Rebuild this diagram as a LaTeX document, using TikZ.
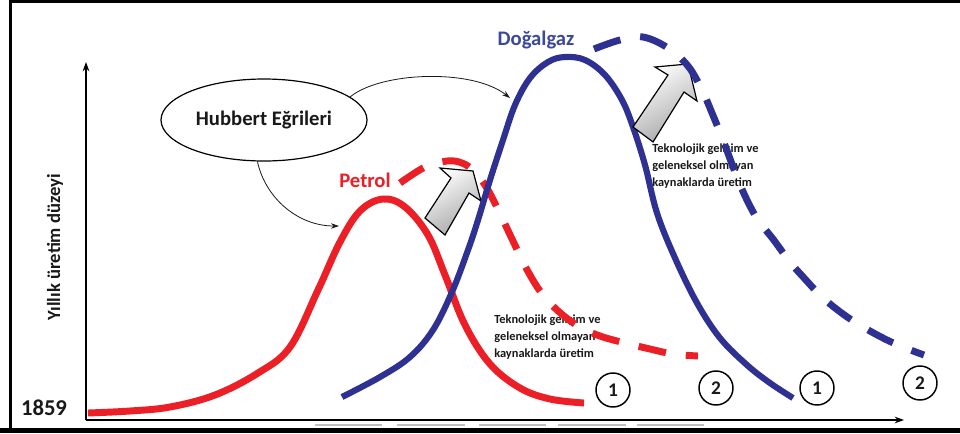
\documentclass[tikz,border=0pt]{standalone}
\usepackage{fontspec}
\setmainfont{Carlito}
\usetikzlibrary{arrows.meta,shapes.geometric}
\definecolor{petred}{RGB}{236,30,38}
\definecolor{gasblue}{RGB}{46,49,146}
\definecolor{gastext}{RGB}{60,72,154}
\definecolor{ink}{RGB}{25,25,25}
\tikzset{
  redcurve/.style={petred,line width=5.2pt,line cap=butt},
  bluecurve/.style={gasblue,line width=4.6pt,line cap=butt},
  dashpat/.style={dash pattern=on 21pt off 15pt},
  thinarrow/.style={ink,line width=0.6pt,-{Stealth[length=6pt,width=4pt]}},
  axisline/.style={black,line width=1.1pt,-{Stealth[length=7pt,width=5pt]}},
  numcircle/.style={circle,draw=black,line width=1.1pt,minimum size=25.5pt,inner sep=0pt,font=\fontsize{14.5}{14.5}\selectfont\bfseries,text=ink},
  label/.style={font=\fontsize{15.5}{16}\selectfont\bfseries},
  smalltext/.style={font=\fontsize{9.3}{12.4}\selectfont\bfseries,text=ink,align=left,anchor=north west,inner sep=0pt},
  blockarrow/.style={draw=black,line width=0.9pt,line join=miter,top color=white,bottom color=black!35,shading angle=30}
}
\begin{document}
\begin{tikzpicture}[x=0.75pt,y=-0.75pt]
\useasboundingbox (0,0) rectangle (960,433);
\fill[white] (0,0) rectangle (960,433);
% frame
\fill[black] (9,0) rectangle (11.5,433);
\fill[black] (9,0) rectangle (960,2.5);
\fill[black] (0,428) rectangle (960,433);
% faint gray segments under axis
\foreach \a/\b in {315/382,397/465,479/546,558/626,637/704}
  \draw[black!25,line width=1.2pt] (\a,425) -- (\b,425);

% axes
\coordinate (origin) at (86,420);
\coordinate (ytop) at (86,62);
\coordinate (xend) at (904,420);
\draw[axisline] (origin) -- (ytop);
\draw[axisline] (origin) -- (xend);

\node[font=\fontsize{17}{17}\selectfont\bfseries,text=ink] (year) at (44,408) {1859};
\node[rotate=90,font=\fontsize{14}{14}\selectfont\bfseries,text=ink] (ylab) at (55,247) {Yıllık üretim düzeyi};

% texts under the curves
\node[smalltext] (txt1) at (494,315) {Teknolojik gelişim ve\\geleneksel olmayan\\kaynaklarda üretim};
\node[smalltext] (txt2) at (652,144) {Teknolojik gelişim ve\\geleneksel olmayan\\kaynaklarda üretim};

% red curves
\draw[redcurve] plot[smooth,tension=0.6] coordinates {(88,413) (130,411) (170,407) (215,395) (258,373) (290,347) (318,290) (340,242) (360,211) (383,199) (405,207) (428,235) (445,275) (465,325) (490,364) (520,388) (550,399) (584,403)};
\draw[redcurve,dashpat] plot[smooth,tension=0.6] coordinates {(400,183) (425,167) (447,161) (462,163) (475,172) (488,190) (502,218) (513,241) (525,266) (540,291) (557,310) (578,326) (600,336) (625,343) (650,349) (673,354) (698,356)};

% first block arrow
\path[blockarrow] (425,218) -- (451,178) -- (440,168) -- (473,171) -- (481,201) -- (469,193) -- (445,235) -- cycle;

% blue solid
\draw[bluecurve] plot[smooth,tension=0.6] coordinates {(342,397) (380,377) (410,357) (433,330) (452,292) (468,250) (478,220) (490,180) (503,140) (515,105) (530,78) (548,62) (565,57) (585,60) (605,75) (622,100) (633,127) (645,165) (657,213) (675,258) (697,303) (720,338) (747,365) (770,383) (793,398)};

% second block arrow
\path[blockarrow] (633,127) -- (668,75) -- (655,67) -- (688,64) -- (697,101) -- (684,92) -- (653,142) -- cycle;

% blue dashed
\draw[bluecurve,line width=5.2pt,dashpat] plot[smooth,tension=0.6] coordinates {(594,49) (620,40) (643,37) (668,48) (688,66) (702,90) (712,113) (723,140) (735,172) (746,198) (758,220) (773,239) (790,262) (805,279) (822,297) (843,314) (863,327) (887,340) (908,349) (924,355)};

% labels
\node[label,text=gastext] (gas) at (536,40) {Doğalgaz};
\node[label,text=petred] (pet) at (365,180) {Petrol};

% Hubbert ellipse and connectors
\node[ellipse,draw=black,line width=0.9pt,minimum width=154.5pt,minimum height=61.5pt,inner sep=0pt,font=\fontsize{15.5}{16}\selectfont\bfseries,text=ink] (hub) at (264,120) {Hubbert Eğrileri};
\coordinate (bluept) at (510,98);
\coordinate (redpt) at (339,226);
\draw[thinarrow] (hub.15) .. controls (380,72) and (472,68) .. (bluept);
\draw[thinarrow] (hub.261) .. controls (265,197) and (297,226) .. (redpt);

% numbered circles
\node[numcircle] (r1) at (613,390) {1};
\node[numcircle] (r2) at (716,388) {2};
\node[numcircle] (b1) at (817,388) {1};
\node[numcircle] (b2) at (920,383) {2};
\end{tikzpicture}
\end{document}
